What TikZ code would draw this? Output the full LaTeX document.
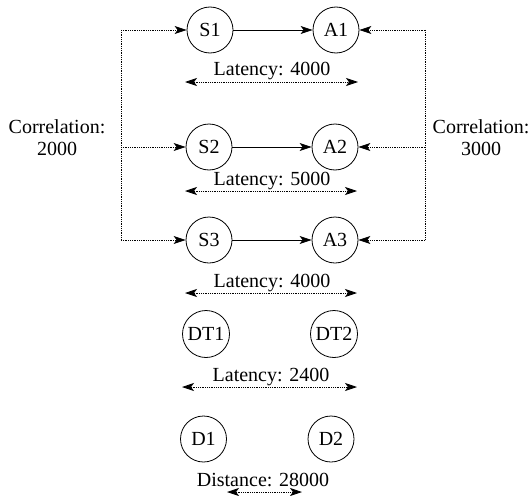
\documentclass[tikz,border=0pt]{standalone}
\usepackage{fontspec}
\setmainfont{Liberation Serif}
\usetikzlibrary{arrows.meta}
\begin{document}
\begin{tikzpicture}[x=1pt,y=-1pt,
  st/.style={circle,draw,line width=0.8pt,inner sep=0pt,minimum size=46pt,font=\fontsize{20}{22}\selectfont},
  lbl/.style={inner sep=0pt,font=\fontsize{20}{22}\selectfont,align=center},
  tip/.style={-{Stealth[length=12pt,width=8pt,inset=3pt]}},
  solidedge/.style={tip,line width=0.8pt},
  dotedge/.style={tip,densely dotted,line width=0.8pt},
  twoway/.style={{Stealth[length=12pt,width=8pt,inset=3pt]}-{Stealth[length=12pt,width=8pt,inset=3pt]},densely dotted,line width=0.8pt}]
\useasboundingbox (0,0) rectangle (532,495);
\node[st] (S1) at (210,30) {S1};
\node[st] (A1) at (336,30) {A1};
\node[st] (S2) at (209,147) {S2};
\node[st] (A2) at (335,147) {A2};
\node[st] (S3) at (209,240) {S3};
\node[st] (A3) at (335,240) {A3};
\node[st,minimum size=47pt] (DT1) at (206,334) {DT1};
\node[st,minimum size=47pt] (DT2) at (334,334) {DT2};
\node[st] (D1) at (203.5,439) {D1};
\node[st] (D2) at (331,439) {D2};
\draw[solidedge] (S1) -- (A1);
\draw[solidedge] (S2) -- (A2);
\draw[solidedge] (S3) -- (A3);
\node[lbl] (CL) at (57,138) {Correlation:\\2000};
\node[lbl] (CR) at (481,138) {Correlation:\\3000};
\coordinate (LT) at (121,30);
\coordinate (LM) at (121,147);
\coordinate (LB) at (121,240);
\coordinate (RT) at (425,30);
\coordinate (RM) at (425,147);
\coordinate (RB) at (425,240);
\draw[densely dotted,line width=0.8pt] (LT) -- (LB);
\draw[densely dotted,line width=0.8pt] (RT) -- (RB);
\draw[dotedge] (LT) -- (S1);
\draw[dotedge] (LM) -- (S2);
\draw[dotedge] (LB) -- (S3);
\draw[dotedge] (RT) -- (A1);
\draw[dotedge] (RM) -- (A2);
\draw[dotedge] (RB) -- (A3);
\node[lbl] (L1) at (272,71) {Latency: 4000};
\coordinate (L1a) at (185,82); \coordinate (L1b) at (358,82);
\draw[twoway] (L1a) -- (L1b);
\node[lbl] (L2) at (272,181) {Latency: 5000};
\coordinate (L2a) at (185,191); \coordinate (L2b) at (357,191);
\draw[twoway] (L2a) -- (L2b);
\node[lbl] (L3) at (272,283) {Latency: 4000};
\coordinate (L3a) at (185,293); \coordinate (L3b) at (357,293);
\draw[twoway] (L3a) -- (L3b);
\node[lbl] (L4) at (271,377) {Latency: 2400};
\coordinate (L4a) at (182,387); \coordinate (L4b) at (357,387);
\draw[twoway] (L4a) -- (L4b);
\node[lbl] (L5) at (263,480) {Distance: 28000};
\coordinate (L5a) at (227,492); \coordinate (L5b) at (302,492);
\draw[twoway] (L5a) -- (L5b);
\end{tikzpicture}
\end{document}
